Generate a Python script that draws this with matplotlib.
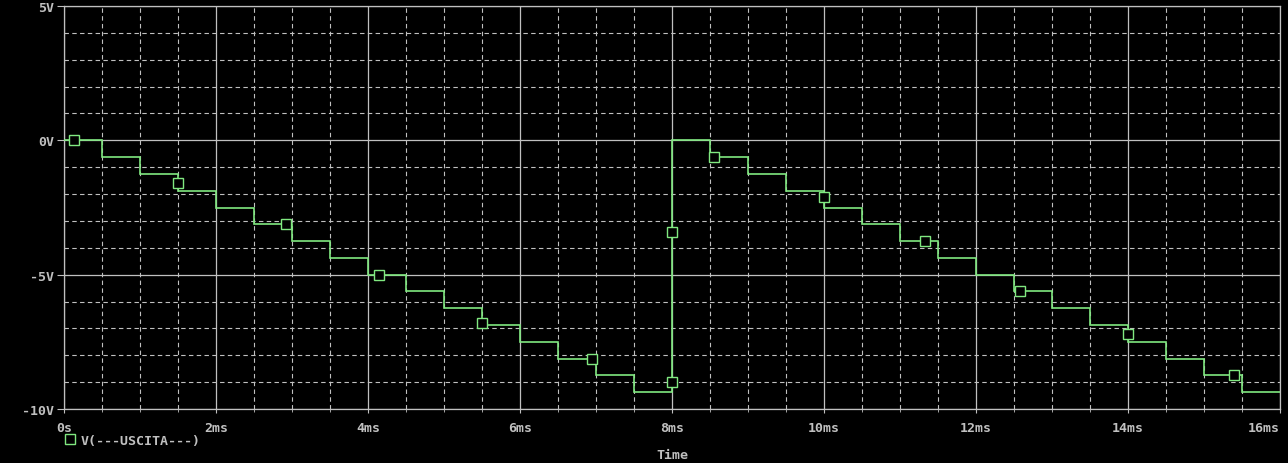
import matplotlib
matplotlib.use("Agg")
import matplotlib.pyplot as plt
from matplotlib.lines import Line2D
from matplotlib.ticker import FixedLocator, FixedFormatter

# staircase output V(---USCITA---), time in ms, volts
step_edges_ms = [0.0, 0.5, 1.0, 1.5, 2.0, 2.5, 3.0, 3.5, 4.0, 4.5, 5.0, 5.5,
                 6.0, 6.5, 7.0, 7.5, 8.0, 8.5, 9.0, 9.5, 10.0, 10.5, 11.0,
                 11.5, 12.0, 12.5, 13.0, 13.5, 14.0, 14.5, 15.0, 15.5, 16.0]
levels_v = [0.0, -0.625, -1.25, -1.875, -2.5, -3.125, -3.75, -4.375,
            -5.0, -5.625, -6.25, -6.875, -7.5, -8.125, -8.75, -9.375,
            0.0, -0.625, -1.25, -1.875, -2.5, -3.125, -3.75, -4.375,
            -5.0, -5.625, -6.25, -6.875, -7.5, -8.125, -8.75, -9.375]

# trace marker squares (as placed by the probe)
marker_t = [0.13, 1.5, 2.92, 4.15, 5.5, 6.95, 8.0, 8.0, 8.55, 10.0, 11.33,
            12.58, 14.0, 15.4]
marker_v = [0.0, -1.6, -3.125, -5.0, -6.8, -8.125, -9.0, -3.4, -0.625, -2.1,
            -3.75, -5.625, -7.2, -8.75]

x_ticks = [0, 2, 4, 6, 8, 10, 12, 14, 16]
x_labels = ["0s", "2ms", "4ms", "6ms", "8ms", "10ms", "12ms", "14ms", "16ms"]
y_ticks = [5, 0, -5, -10]
y_labels = ["5V", "0V", "-5V", "-10V"]

green = "#80e880"
grey = "#c0c0c0"
font = dict(family="DejaVu Sans Mono", weight="bold", size=9.5, color=grey)

W, H = 1288, 464
fig = plt.figure(figsize=(W / 100, H / 100), dpi=100, facecolor="black")
ax = fig.add_axes([64 / W, 1 - 410 / H, (1280 - 64) / W, (410 - 7) / H])
ax.set_facecolor("black")

# dashed minor grid
for t in [x * 0.5 for x in range(1, 32)]:
    if t not in x_ticks:
        ax.axvline(t, color=grey, lw=0.8, ls=(0, (4, 3)), zorder=1)
for v in range(-9, 5):
    if v not in y_ticks:
        ax.axhline(v, color=grey, lw=0.8, ls=(0, (4, 3)), zorder=1)
# solid major grid
for t in x_ticks:
    ax.axvline(t, color=grey, lw=0.9, zorder=1)
for v in y_ticks:
    ax.axhline(v, color=grey, lw=0.9, zorder=1)

ax.stairs(levels_v, step_edges_ms, baseline=None, color=green, lw=1.2,
          zorder=3)
ax.plot(marker_t, marker_v, ls="none", marker="s", ms=6.5, mfc="black",
        mec=green, mew=1.0, zorder=4)

ax.set_xlim(0, 16)
ax.set_ylim(-10, 5)
for s in ax.spines.values():
    s.set_color(grey)
    s.set_linewidth(0.9)

ax.xaxis.set_major_locator(FixedLocator(x_ticks))
ax.xaxis.set_major_formatter(FixedFormatter(x_labels))
ax.xaxis.set_minor_locator(FixedLocator([x * 0.5 for x in range(33)]))
ax.yaxis.set_major_locator(FixedLocator(y_ticks))
ax.yaxis.set_major_formatter(FixedFormatter(y_labels))
ax.tick_params(axis="x", which="major", length=3, color=grey, pad=5.5)
ax.tick_params(axis="x", which="minor", length=2, color=grey)
ax.tick_params(axis="y", length=5, color=grey, pad=2)
for lab in ax.get_xticklabels() + ax.get_yticklabels():
    lab.set(**font)
# last time label sits inside the right edge
ax.get_xticklabels()[-1].set_ha("right")

fig.text(672 / W, 1 - 456 / H, "Time", ha="center", va="center", **font)

h = Line2D([], [], ls="none", marker="s", ms=6.5, mfc="black", mec=green,
           mew=1.0)
leg = ax.legend([h], ["V(---USCITA---)"], loc="center left",
                bbox_to_anchor=(65 / W, 1 - 441 / H),
                bbox_transform=fig.transFigure, frameon=False,
                handlelength=0.8, handletextpad=0.4, borderpad=0,
                borderaxespad=0, prop=dict(family="DejaVu Sans Mono",
                                           weight="bold", size=9.5))
for t in leg.get_texts():
    t.set_color(grey)

fig.savefig("out.png", dpi=100, facecolor="black")
